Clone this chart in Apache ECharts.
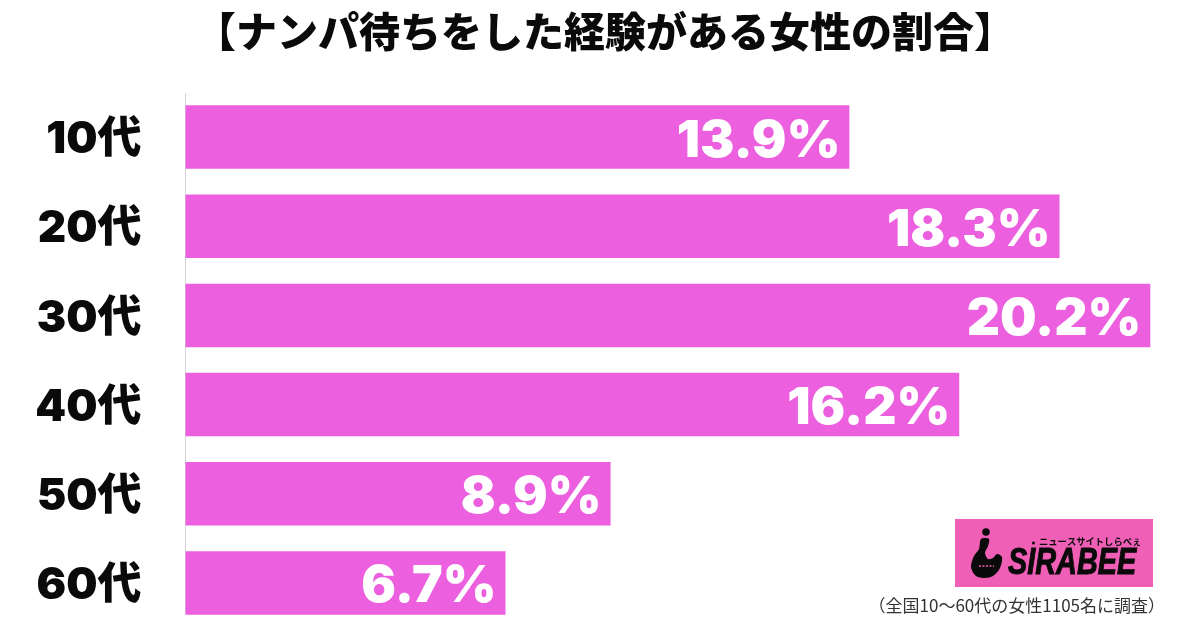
<!DOCTYPE html>
<html>
<head>
<meta charset="utf-8">
<style>
  html, body { margin: 0; padding: 0; background: #fff; }
  #chart { width: 1200px; height: 630px; }
</style>
<script src="https://cdn.jsdelivr.net/npm/echarts@6/dist/echarts.min.js"></script>
</head>
<body>
<div id="chart"></div>
<script>
var titleText = '【ナンパ待ちをした経験がある女性の割合】';
var noteText = '（全国10〜60代の女性1105名に調査）';
var categories = ['10代', '20代', '30代', '40代', '50代', '60代'];
var values = [13.9, 18.3, 20.2, 16.2, 8.9, 6.7];

var jpFont = '"Noto Sans CJK JP", sans-serif';
var numFont = 'Inter, "Noto Sans CJK JP", sans-serif';
var chart = echarts.init(document.getElementById('chart'));

// outline of the hook in the logo
var hookPoints = [
  [981, 539], [989, 539], [988, 546], [985, 553], [988, 559], [993, 558], [997, 554], [1002, 557],
  [1000, 568], [993, 576], [985, 578], [976, 576], [971, 567], [974, 556], [979, 549]
];

chart.setOption({
  backgroundColor: '#fff',
  animation: false,
  title: {
    text: titleText,
    left: 600,
    top: 6,
    textAlign: 'center',
    textStyle: { fontFamily: jpFont, fontWeight: 900, fontSize: 41, color: '#0a0a0a' }
  },
  grid: { left: 185.5, top: 92.5, width: 1003, height: 535 },
  xAxis: { type: 'value', min: 0, max: 21, show: false },
  yAxis: {
    type: 'category',
    inverse: true,
    data: categories,
    axisTick: { show: false },
    axisLine: { show: false },
    axisLabel: {
      margin: 44,
      verticalAlign: 'top',
      lineHeight: 6,
      fontFamily: numFont,
      fontWeight: 900,
      fontSize: 44,
      color: '#0a0a0a'
    }
  },
  series: [{
    type: 'bar',
    data: values,
    barWidth: 63.5,
    itemStyle: { color: '#ec5fdf' },
    label: {
      show: true,
      position: 'insideRight',
      distance: 9,
      offset: [0, 4],
      formatter: function (p) { return p.value.toFixed(1) + '%'; },
      fontFamily: numFont,
      fontWeight: 900,
      fontSize: 51.5,
      color: '#fff'
    }
  }],
  graphic: [
    { type: 'line', silent: true, shape: { x1: 185.5, y1: 93, x2: 185.5, y2: 614 },
      style: { stroke: '#d4d4d4', lineWidth: 1 } },
    // logo
    { type: 'rect', silent: true, shape: { x: 955, y: 519, width: 198, height: 68 },
      style: { fill: '#ee5fb5' } },
    { type: 'circle', silent: true, shape: { cx: 986, cy: 532, r: 3.8 }, style: { fill: '#0a0a0a' } },
    { type: 'polygon', silent: true, shape: { points: hookPoints, smooth: 0.3 }, style: { fill: '#0a0a0a' } },
    { type: 'line', silent: true, shape: { x1: 979, y1: 566, x2: 994, y2: 566 },
      style: { stroke: '#ee5fb5', lineWidth: 1.5, lineDash: [2, 1.5] } },
    { type: 'circle', silent: true, shape: { cx: 1033.5, cy: 543, r: 1.5 }, style: { fill: '#0a0a0a' } },
    { type: 'text', silent: true, x: 1039, y: 536.5,
      style: { text: 'ニュースサイトしらべぇ', fontFamily: jpFont, fontWeight: 700, fontSize: 9.3, fill: '#0a0a0a' } },
    { type: 'text', silent: true, x: 1008, y: 564, scaleX: 0.78,
      style: {
        text: 'SIRABEE', verticalAlign: 'middle', fontFamily: '"Liberation Sans"', fontWeight: 'bold',
        fontStyle: 'italic', fontSize: 37, fill: '#0a0a0a', stroke: '#0a0a0a', lineWidth: 1
      } },
    { type: 'text', silent: true, x: 1165, y: 597,
      style: { text: noteText, align: 'right', fontFamily: jpFont, fontSize: 17, fill: '#333' } }
  ]
});
</script>
</body>
</html>
